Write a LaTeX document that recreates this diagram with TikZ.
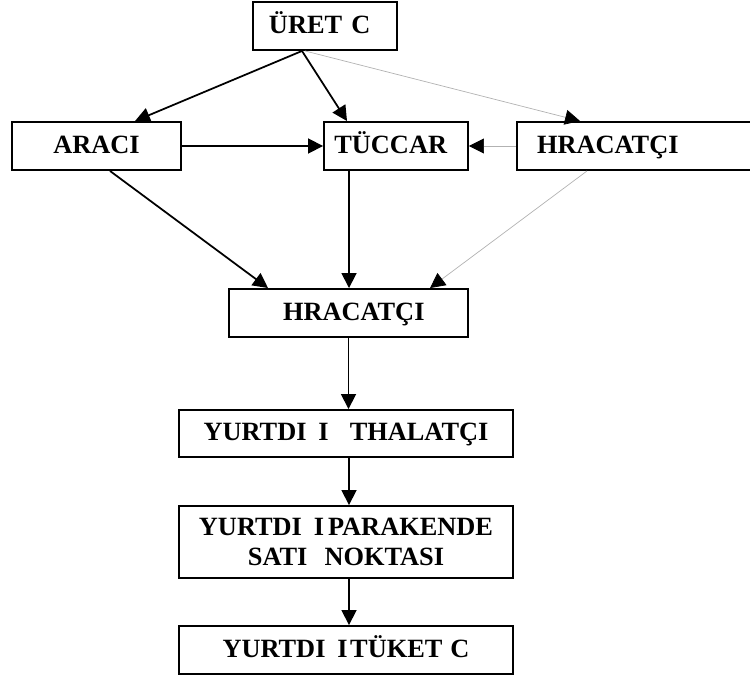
\documentclass[tikz,border=0pt]{standalone}
\usepackage{fontspec}
\setmainfont{Liberation Serif}
\usetikzlibrary{arrows.meta}

\begin{document}
\begin{tikzpicture}[x=0.02cm,y=-0.02cm,
  box/.style={draw,line width=1.1pt,inner sep=0pt,minimum height=0.96cm,
    text height=11pt,text depth=3pt,
    font=\fontsize{15}{17}\selectfont\bfseries,align=center},
  arr/.style={line width=1pt,-{Triangle[length=0.3cm,width=0.3cm]}},
  faint/.style={draw=black!30,line width=0.4pt,-{Triangle[length=0.3cm,width=0.3cm,color=black]}}]
  \useasboundingbox (0,0) rectangle (750,679);
  \node[box,minimum width=2.88cm] (uretici) at (325,26) {ÜRET\hspace{.35em}C\hspace{.4em}};
  \node[box,minimum width=3.38cm] (araci) at (96.5,146) {ARACI};
  \node[box,minimum width=2.88cm] (tuccar) at (396,146) {TÜCCAR\hspace{.4em}};
  \node[box,inner xsep=0.4cm] (ihracat1) at (653.5,146) {\makebox[4.66cm][l]{HRACATÇI}};
  \node[box,minimum width=4.78cm] (ihracat2) at (348.5,313) {\hspace{.4em}HRACATÇI};
  \node[box,minimum width=6.68cm,minimum height=0.94cm] (ithalat) at (346,433.5)
    {YURTDI\hspace{.45em}I\hspace{.8em}THALATÇI};
  \node[box,minimum width=6.68cm,minimum height=1.44cm,text height=,text depth=] (perakende) at (346,542)
    {YURTDI\hspace{.45em}I\hspace{.15em}PARAKENDE\\ SATI\hspace{.65em}NOKTASI};
  \node[box,minimum width=6.68cm] (tuketici) at (346,650)
    {YURTDI\hspace{.45em}I\hspace{.1em}TÜKET\hspace{.3em}C};
  \draw[arr] ([xshift=-0.46cm]uretici.south) -- ([xshift=0.77cm]araci.north);
  \draw[arr] ([xshift=-0.46cm]uretici.south) -- ([xshift=-0.98cm]tuccar.north);
  \draw[faint] ([xshift=-0.4cm]uretici.south) -- ([xshift=-1.47cm]ihracat1.north);
  \draw[arr] (araci.east) -- (tuccar.west);
  \draw[faint] (ihracat1.west) -- (tuccar.east);
  \draw[arr] ([xshift=0.27cm]araci.south) -- ([xshift=-1.61cm]ihracat2.north);
  \draw[arr] ([xshift=-0.94cm]tuccar.south) -- ([xshift=-0.94cm]tuccar.south |- ihracat2.north);
  \draw[faint] ([xshift=-1.33cm]ihracat1.south) -- ([xshift=1.63cm]ihracat2.north);
  \draw[arr] (ihracat2.south) -- (ihracat2.south |- ithalat.north);
  \draw[arr] ([xshift=0.06cm]ithalat.south) -- ([xshift=0.06cm]perakende.north);
  \draw[arr] ([xshift=0.06cm]perakende.south) -- ([xshift=0.06cm]tuketici.north);
\end{tikzpicture}
\end{document}
